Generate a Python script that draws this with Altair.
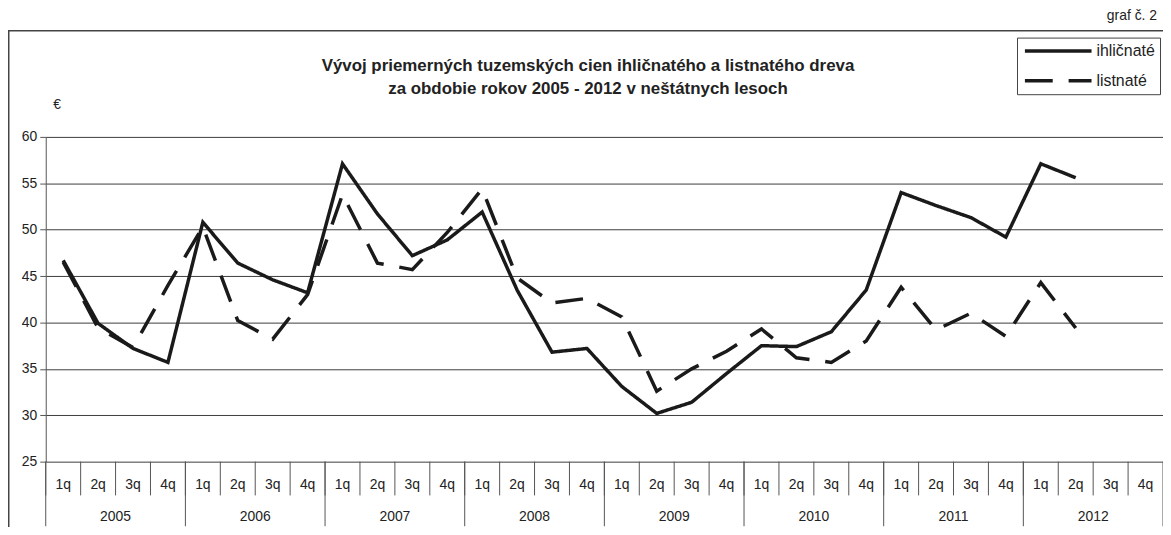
import altair as alt
import pandas as pd

# ---- data ----
years = ["2005", "2006", "2007", "2008", "2009", "2010", "2011", "2012"]
quarters = ["1q", "2q", "3q", "4q"]
series = ["ihličnaté", "listnaté"]

ihlicnate = [46.7, 39.9, 37.2, 35.7,
             50.8, 46.4, 44.6, 43.2,
             57.1, 51.7, 47.2, 48.9,
             51.9, 43.5, 36.8, 37.2,
             33.1, 30.2, 31.4, 34.5,
             37.5, 37.4, 39.0, 43.5,
             54.0, 52.6, 51.3, 49.2,
             57.1, 55.6, None, None]
listnate = [46.5, 39.4, 37.3, 44.0,
            50.3, 40.2, 38.2, 43.0,
            53.8, 46.4, 45.7, 49.7,
            54.4, 44.8, 42.1, 42.6,
            40.6, 32.6, 35.0, 36.9,
            39.3, 36.2, 35.7, 38.0,
            43.8, 39.2, 41.0, 38.5,
            44.3, 39.4, None, None]

title_lines = ["Vývoj priemerných tuzemských cien ihličnatého a listnatého dreva",
               "za obdobie rokov 2005 - 2012 v neštátnych lesoch"]
unit_label = "€"
chart_tag = "graf č. 2"
y_ticks = [25, 30, 35, 40, 45, 50, 55, 60]

# ---- build tables ----
n_q = len(quarters)
n = len(years) * n_q
rows = []
for yi, yr in enumerate(years):
    for qi, q in enumerate(quarters):
        idx = yi * n_q + qi
        for s, vals in zip(series, [ihlicnate, listnate]):
            rows.append({"pos": idx + 0.5, "year": yr, "quarter": q,
                         "series": s, "value": vals[idx]})
df = pd.DataFrame(rows)

qlab = pd.DataFrame({"pos": [i + 0.5 for i in range(n)],
                     "quarter": [quarters[i % n_q] for i in range(n)]})
ylab = pd.DataFrame({"pos": [yi * n_q + n_q / 2 for yi in range(len(years))],
                     "year": years})
qsep = pd.DataFrame({"b": list(range(n))})
ysep = pd.DataFrame({"b": list(range(0, n + 1, n_q))})
one = pd.DataFrame({"k": [0]})

W, H = 1125, 327
FONT = "Liberation Sans"
INK = "#1a1a1a"
TXT = "#222222"
GRID = "#3c3c3c"

xs = alt.Scale(domain=[0, n], nice=False, zero=False)
ys = alt.Scale(domain=[25, 60], nice=False, zero=False)

yaxis = alt.Axis(values=y_ticks, grid=True, gridColor=GRID, gridWidth=1,
                 domainColor="#555555", tickColor="#555555", tickSize=6,
                 labelFont=FONT, labelFontSize=14, labelColor=TXT, labelPadding=3,
                 title=unit_label, titleAngle=0, titleX=11, titleY=-33,
                 titleAlign="center", titleBaseline="middle",
                 titleFont=FONT, titleFontSize=14, titleFontWeight="normal",
                 titleColor=TXT)

frame = alt.Chart(one).mark_rect(fillOpacity=0, stroke="#444444", strokeWidth=1.5).encode(
    x=alt.value(-37.25), x2=alt.value(W + 20), y=alt.value(-107), y2=alt.value(H + 120))

lines = alt.Chart(df).mark_line(strokeWidth=3.5, color=INK, strokeJoin="miter",
                                strokeCap="butt").encode(
    x=alt.X("pos:Q", scale=xs, axis=None),
    y=alt.Y("value:Q", scale=ys, axis=yaxis),
    strokeDash=alt.StrokeDash(
        "series:N",
        scale=alt.Scale(domain=series, range=[[1, 0], [28, 16]]),
        legend=alt.Legend(title=None, orient="none", legendX=978, legendY=-100,
                          symbolType="M-5,0H5", symbolSize=180,
                          symbolStrokeWidth=3.5, symbolStrokeColor=INK,
                          symbolFillColor="transparent",
                          symbolOffset=28, labelOffset=30,
                          labelFont=FONT, labelFontSize=16, labelColor=TXT,
                          strokeColor="#444444", fillColor="white", padding=5,
                          rowPadding=13),
    ),
)

qrules = alt.Chart(qsep).mark_rule(color="#555555", strokeWidth=1).encode(
    x=alt.X("b:Q", scale=xs, axis=None), y=alt.value(H), y2=alt.value(H + 34))
yrules = alt.Chart(ysep).mark_rule(color="#555555", strokeWidth=1).encode(
    x=alt.X("b:Q", scale=xs, axis=None), y=alt.value(H), y2=alt.value(H + 65))

qtext = alt.Chart(qlab).mark_text(font=FONT, fontSize=14, color=TXT, baseline="middle").encode(
    x=alt.X("pos:Q", scale=xs, axis=None), y=alt.value(H + 24), text="quarter:N")
ytext = alt.Chart(ylab).mark_text(font=FONT, fontSize=14, color=TXT, baseline="middle").encode(
    x=alt.X("pos:Q", scale=xs, axis=None), y=alt.value(H + 56), text="year:N")

t1 = alt.Chart(one).mark_text(text=title_lines[0], font=FONT, fontSize=17, fontWeight="bold",
                              color=TXT, baseline="middle", align="center").encode(
    x=alt.value(546), y=alt.value(-71))
t2 = alt.Chart(one).mark_text(text=title_lines[1], font=FONT, fontSize=17, fontWeight="bold",
                              color=TXT, baseline="middle", align="center").encode(
    x=alt.value(546), y=alt.value(-48))
tag = alt.Chart(one).mark_text(text=chart_tag, font=FONT, fontSize=14, color=TXT,
                               baseline="middle", align="right").encode(
    x=alt.value(1119), y=alt.value(-122))

chart = alt.layer(frame, lines, qrules, yrules, qtext, ytext, t1, t2, tag).properties(
    width=W, height=H,
    autosize=alt.AutoSizeParams(type="none"),
    padding={"left": 38, "top": 128, "right": 0, "bottom": 64},
).configure_view(stroke=None)

chart.save("out.html", embed_options={"renderer": "svg", "actions": False})
